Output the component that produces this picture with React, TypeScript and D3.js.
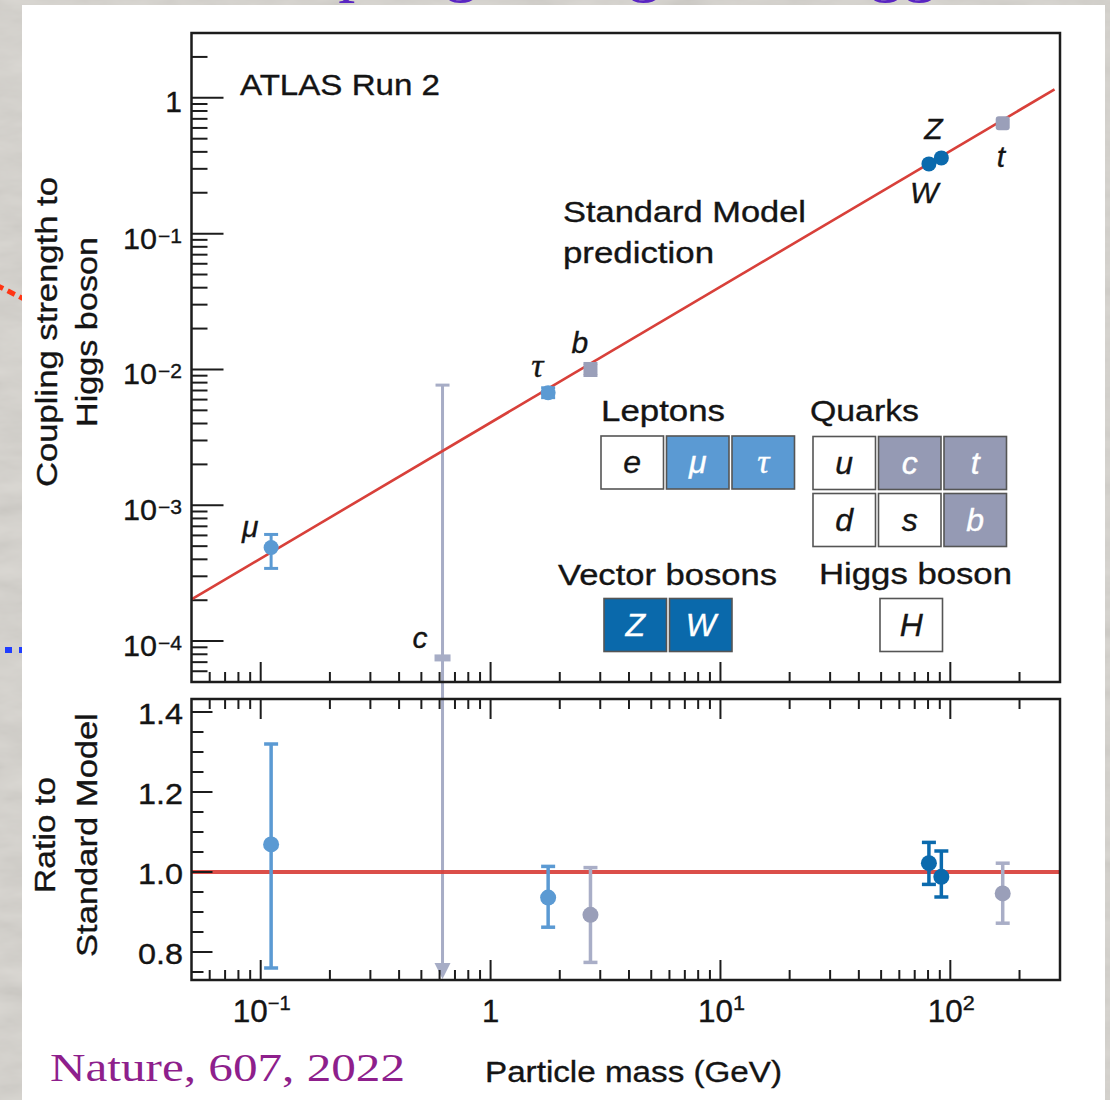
import React from "react";
import * as d3 from "d3";

// ---------------- data ----------------
const massDomain: [number, number] = [0.05, 300];
const couplingDomain: [number, number] = [5e-5, 3];
const ratioDomain: [number, number] = [0.73, 1.4325];

const particleNames = ["μ", "τ", "b", "W", "Z", "t"];
const particleGroup = ["lepton", "lepton", "quark", "boson", "boson", "quark"];
const particleMass = [0.111, 1.78, 2.72, 80.7, 91.4, 169];
const coupling = [4.89e-4, 6.74e-3, 1.0e-2, 0.326, 0.361, 0.65];
const couplingLow = [3.43e-4, 6.2e-3, 0.903e-2, 0.326, 0.361, 0.65];
const couplingHigh = [6.1e-4, 7.33e-3, 1.107e-2, 0.326, 0.361, 0.65];

const ratio = [1.069, 0.936, 0.893, 1.022, 0.988, 0.9465];
const ratioLow = [0.76, 0.862, 0.774, 0.969, 0.9375, 0.872];
const ratioHigh = [1.32, 1.014, 1.011, 1.074, 1.0525, 1.022];

const charmName = "c";
const charmMass = 0.618;
const charmCoupling = 7.52e-5;
const charmCouplingHigh = 7.67e-3;

const smMass = [0.05, 284];
const smCoupling = [2.03e-4, 1.154];
const smRatio = 1.0;

const couplingTickLabels = [
  { v: 1, base: "1", exp: "" },
  { v: 1e-1, base: "10", exp: "−1" },
  { v: 1e-2, base: "10", exp: "−2" },
  { v: 1e-3, base: "10", exp: "−3" },
  { v: 1e-4, base: "10", exp: "−4" },
];
const massTickLabels = [
  { v: 0.1, base: "10", exp: "−1" },
  { v: 1, base: "1", exp: "" },
  { v: 10, base: "10", exp: "1" },
  { v: 100, base: "10", exp: "2" },
];
const ratioTickValues = [0.8, 1.0, 1.2, 1.4];
const ratioTickLabels = ["0.8", "1.0", "1.2", "1.4"];

const leptonCells = ["e", "μ", "τ"];
const leptonMeasured = [false, true, true];
const quarkCells = [["u", "c", "t"], ["d", "s", "b"]];
const quarkMeasured = [[false, true, true], [false, false, true]];
const bosonCells = ["Z", "W"];
const higgsCells = ["H"];

// ---------------- styles ----------------
const SANS = "'Liberation Sans', Arial, Helvetica, sans-serif";
const SERIF = "'Liberation Serif', 'Times New Roman', serif";
const RED = "#d8403a";
const COLORS: Record<string, { mark: string; bar: string; cell: string }> = {
  lepton: { mark: "#5b9ad3", bar: "#5b9ad3", cell: "#5b9ad3" },
  boson: { mark: "#0b6aad", bar: "#0b6aad", cell: "#0a69ab" },
  quark: { mark: "#9a9fb9", bar: "#a9aec7", cell: "#959ab4" },
};
const CHARM = "#a7adc6";
// label offsets relative to the upper-panel point (layout)
const labelOffset: Record<string, [number, number]> = {
  "μ": [-29, -10],
  "τ": [-17, -16],
  b: [-19, -16],
  W: [-19, 39],
  Z: [-17, -19],
  t: [-6, 44],
  c: [-30, -10],
};

function T(props: any) {
  const { x, y, len, size = 30, anchor = "start", italic = false, fill = "#141414", family = SANS, rotate = false, heavy = true, children } = props;
  return (
    <text
      x={x}
      y={y}
      fontSize={size}
      fontFamily={family}
      fontStyle={italic ? "italic" : "normal"}
      fill={fill}
      stroke={heavy ? fill : undefined}
      strokeWidth={heavy ? 0.35 : undefined}
      textAnchor={anchor}
      textLength={len}
      lengthAdjust={len ? "spacingAndGlyphs" : undefined}
      transform={rotate ? `rotate(-90 ${x} ${y})` : undefined}
    >
      {children}
    </text>
  );
}

const isMajor = (v: number) => Math.abs(Math.log10(v) - Math.round(Math.log10(v))) < 1e-6;

export default function App() {
  const L = 191.5, R = 1060;
  const uTop = 33, uBot = 682, lTop = 699, lBot = 980;
  const x = d3.scaleLog().domain(massDomain).range([L, R]);
  const yU = d3.scaleLog().domain(couplingDomain).range([uBot, uTop]);
  const yL = d3.scaleLinear().domain(ratioDomain).range([lBot, lTop]);

  const xTicks = x.ticks().filter((v) => x(v) > L + 2 && x(v) < R - 2);
  const yUTicks = yU.ticks().filter((v) => yU(v) > uTop + 2 && yU(v) < uBot - 2);
  const yLTicks = d3.range(15, 29).map((k) => ({ v: k * 0.05, major: k % 4 === 0 }));

  const smPath = d3
    .line<[number, number]>()
    .x((d) => x(d[0]))
    .y((d) => yU(d[1]))(smMass.map((m, i) => [m, smCoupling[i]] as [number, number]));

  const frame = "#1c1c1c";
  const cellW = 62.5, cellH = 53, cellStep = 65.5;

  const cell = (key: string, cx: number, cy: number, label: string, filled: boolean, fillColor: string, serif = false) => (
    <g key={key}>
      <rect x={cx} y={cy} width={cellW} height={cellH} fill={filled ? fillColor : "#ffffff"} stroke="#555" strokeWidth={1.6} />
      <T x={cx + cellW / 2} y={cy + 37} anchor="middle" size={serif ? 34 : 32} italic fill={filled ? "#ffffff" : "#151515"} family={serif ? SERIF : SANS}>
        {label}
      </T>
    </g>
  );

  const cx = x(charmMass);

  return (
    <div style={{ position: "absolute", left: 0, top: 0, width: 1110, height: 1100 }}>
      <svg width={1110} height={1100} viewBox="0 0 1110 1100" style={{ display: "block" }}>
        <defs>
          <filter id="marble" x="0" y="0" width="100%" height="100%">
            <feTurbulence type="fractalNoise" baseFrequency="0.018 0.05" numOctaves={4} seed={7} />
            <feColorMatrix type="matrix" values="0.33 0.33 0.33 0 0  0.33 0.33 0.33 0 0  0.33 0.33 0.33 0 0  0 0 0 0 0.2" />
          </filter>
        </defs>
        {/* background */}
        <rect x={0} y={0} width={1110} height={1100} fill="#d9d6d0" />
        <rect x={0} y={0} width={1110} height={1100} filter="url(#marble)" />
        {/* cut-off title (only descenders show above the panel) */}
        <T x={225} y={-11} size={68} family={SERIF} fill="#5a25c2" heavy={false}>Coupling strength to Higgs</T>
        {/* side markers */}
        <line x1={-4} y1={285} x2={24} y2={299} stroke="#ff3514" strokeWidth={5} strokeDasharray="8 5" />
        <rect x={5} y={647} width={7} height={6} fill="#1f3dff" />
        <rect x={19} y={647} width={5} height={6} fill="#1f3dff" />
        {/* white panel */}
        <rect x={22} y={5} width={1083} height={1100} fill="#ffffff" />

        {/* ===== upper panel ===== */}
        <T x={240} y={95} len={200}>ATLAS Run 2</T>
        <T x={563} y={222} len={243}>Standard Model</T>
        <T x={563} y={263} len={151}>prediction</T>

        {/* y axis ticks upper */}
        {yUTicks.map((v, i) => (
          <line key={"yu" + i} x1={L} x2={L + (isMajor(v) ? 32 : 16)} y1={yU(v)} y2={yU(v)} stroke={frame} strokeWidth={2} />
        ))}
        {couplingTickLabels.map((t, i) =>
          t.exp ? (
            <g key={"yul" + i}>
              <T x={157} y={yU(t.v) + 15} anchor="end" len={34}>{t.base}</T>
              <T x={158} y={yU(t.v) + 9} size={20} len={24}>{t.exp}</T>
            </g>
          ) : (
            <T key={"yul" + i} x={182} y={yU(t.v) + 14} anchor="end">{t.base}</T>
          )
        )}
        {/* x ticks upper (bottom edge) */}
        {xTicks.map((v, i) => (
          <line key={"xu" + i} x1={x(v)} x2={x(v)} y1={uBot} y2={uBot - (isMajor(v) ? 20 : 10)} stroke={frame} strokeWidth={2} />
        ))}

        {/* charm bar spanning both panels */}
        <line x1={cx} x2={cx} y1={yU(charmCouplingHigh)} y2={lBot - 15} stroke={CHARM} strokeWidth={3} />
        <line x1={cx - 7} x2={cx + 7} y1={yU(charmCouplingHigh)} y2={yU(charmCouplingHigh)} stroke={CHARM} strokeWidth={3} />
        <rect x={cx - 8} y={yU(charmCoupling) - 3.5} width={16} height={7} fill={CHARM} />
        <path d={`M${cx - 8},${lBot - 17} L${cx + 8},${lBot - 17} L${cx},${lBot - 1} Z`} fill={CHARM} />
        <T x={cx + labelOffset.c[0]} y={yU(charmCoupling) + labelOffset.c[1]} italic>{charmName}</T>

        {/* SM line */}
        <path d={smPath || ""} fill="none" stroke={RED} strokeWidth={2.6} />

        {/* upper points */}
        {particleNames.map((n, i) => {
          const c = COLORS[particleGroup[i]];
          const px = x(particleMass[i]);
          const py = yU(coupling[i]);
          const hi = yU(couplingHigh[i]);
          const lo = yU(couplingLow[i]);
          const showBar = Math.abs(lo - hi) > 4;
          const off = labelOffset[n];
          return (
            <g key={"up" + i}>
              {showBar && (
                <g stroke={c.mark} strokeWidth={3}>
                  <line x1={px} x2={px} y1={hi} y2={lo} />
                  <line x1={px - 7} x2={px + 7} y1={hi} y2={hi} />
                  <line x1={px - 7} x2={px + 7} y1={lo} y2={lo} />
                </g>
              )}
              {particleGroup[i] === "quark" ? (
                <rect x={px - 7} y={py - 7} width={14} height={14} rx={3} fill={c.mark} />
              ) : (
                <circle cx={px} cy={py} r={7.5} fill={c.mark} />
              )}
              <T x={px + off[0]} y={py + off[1]} italic size={n === "τ" ? 34 : 30} family={n === "τ" ? SERIF : SANS}>{n}</T>
            </g>
          );
        })}

        {/* legend */}
        <T x={601} y={421} len={124}>Leptons</T>
        {leptonCells.map((s, i) => cell("lc" + i, 601 + i * cellStep, 436, s, leptonMeasured[i], COLORS.lepton.cell, s === "τ"))}
        <T x={810} y={421} len={109}>Quarks</T>
        {quarkCells.map((row, r) => row.map((s, i) => cell("qc" + r + i, 813 + i * cellStep, 436.5 + r * 57, s, quarkMeasured[r][i], COLORS.quark.cell)))}
        <T x={558} y={585} len={219}>Vector bosons</T>
        {bosonCells.map((s, i) => cell("bc" + i, 604 + i * cellStep, 598.5, s, true, COLORS.boson.cell))}
        <T x={819} y={584} len={193}>Higgs boson</T>
        {higgsCells.map((s, i) => cell("hc" + i, 880 + i * cellStep, 598.5, s, false, "#fff"))}

        {/* upper frame */}
        <rect x={L} y={uTop} width={R - L} height={uBot - uTop} fill="none" stroke={frame} strokeWidth={2.5} />

        {/* ===== lower panel ===== */}
        <line x1={L} x2={R} y1={yL(smRatio)} y2={yL(smRatio)} stroke={RED} strokeWidth={4} opacity={0.92} />
        {yLTicks.map((t, i) => (
          <line key={"yl" + i} x1={L} x2={L + (t.major ? 21 : 12)} y1={yL(t.v)} y2={yL(t.v)} stroke={frame} strokeWidth={2} />
        ))}
        {ratioTickValues.map((v, i) => (
          <T key={"yll" + i} x={183} y={yL(v) + 12} anchor="end" len={45}>{ratioTickLabels[i]}</T>
        ))}
        {xTicks.map((v, i) => (
          <g key={"xl" + i} stroke={frame} strokeWidth={2}>
            <line x1={x(v)} x2={x(v)} y1={lTop} y2={lTop + (isMajor(v) ? 20 : 10)} />
            <line x1={x(v)} x2={x(v)} y1={lBot} y2={lBot - (isMajor(v) ? 20 : 10)} />
          </g>
        ))}
        {massTickLabels.map((t, i) => {
          if (!t.exp) return <T key={"xll" + i} x={x(t.v)} y={1022} anchor="middle" size={31}>{t.base}</T>;
          const supLen = t.exp.length > 1 ? 23 : 12;
          const total = 35 + supLen;
          const sx = x(t.v) - total / 2 + 1;
          return (
            <g key={"xll" + i}>
              <T x={sx} y={1022} size={31} len={35}>{t.base}</T>
              <T x={sx + 35} y={1010} size={20} len={supLen}>{t.exp}</T>
            </g>
          );
        })}
        {particleNames.map((n, i) => {
          const c = COLORS[particleGroup[i]];
          const px = x(particleMass[i]);
          const hi = yL(ratioHigh[i]);
          const lo = yL(ratioLow[i]);
          return (
            <g key={"lp" + i}>
              <g stroke={c.bar} strokeWidth={3.5}>
                <line x1={px} x2={px} y1={hi} y2={lo} />
                <line x1={px - 7} x2={px + 7} y1={hi} y2={hi} />
                <line x1={px - 7} x2={px + 7} y1={lo} y2={lo} />
              </g>
              <circle cx={px} cy={yL(ratio[i])} r={8} fill={c.mark} />
            </g>
          );
        })}
        <rect x={L} y={lTop} width={R - L} height={lBot - lTop} fill="none" stroke={frame} strokeWidth={2.5} />

        {/* axis titles */}
        <T x={57} y={332} anchor="middle" rotate len={310}>Coupling strength to</T>
        <T x={97} y={332} anchor="middle" rotate len={190}>Higgs boson</T>
        <T x={55} y={835} anchor="middle" rotate len={116}>Ratio to</T>
        <T x={97} y={835} anchor="middle" rotate len={244}>Standard Model</T>
        <T x={485} y={1082} len={297}>Particle mass (GeV)</T>
        <T x={50} y={1081} size={40} family={SERIF} fill="#8e1f8c" len={355} heavy={false}>Nature, 607, 2022</T>
      </svg>
    </div>
  );
}
